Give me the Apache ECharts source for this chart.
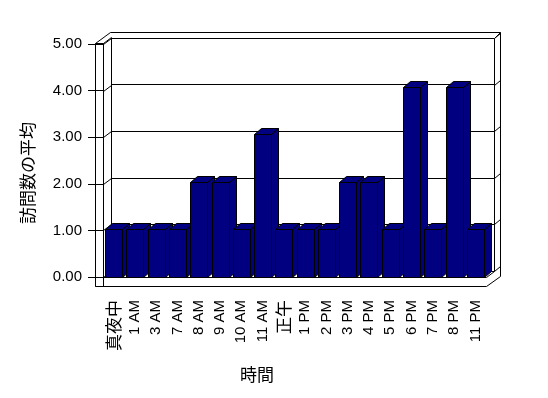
<!DOCTYPE html>
<html>
<head>
<meta charset="utf-8">
<script src="https://cdn.jsdelivr.net/npm/echarts@6/dist/echarts.min.js"></script>
<style>
html, body { margin: 0; background: #fff; }
#chart { width: 548px; height: 398px; }
</style>
</head>
<body>
<div id="chart"></div>
<script>
var categories = ['真夜中', '1 AM', '3 AM', '7 AM', '8 AM', '9 AM', '10 AM', '11 AM', '正午',
    '1 PM', '2 PM', '3 PM', '4 PM', '5 PM', '6 PM', '7 PM', '8 PM', '11 PM'];
var averages = [1, 1, 1, 1, 2, 2, 1, 3, 1, 1, 1, 2, 2, 1, 4, 1, 4, 1];
var yTicks = [0, 1, 2, 3, 4, 5];

var FONT = '"Liberation Sans", "Noto Sans CJK JP", sans-serif';
var CJK = '"Noto Sans CJK JP", sans-serif';
var NAVY = '#000080';
var DEPTH = [7, -6];

var myChart = echarts.init(document.getElementById('chart'));

// 3d-ish column: side, top, then front face
function renderBar(params, api) {
    var top = api.coord([api.value(0), api.value(1)]);
    var base = api.coord([api.value(0), 0]);
    var w = Math.round(api.size([1, 0])[0] * 0.81);
    var x0 = Math.round(top[0] - w / 2) + 0.5;
    var x1 = x0 + w;
    var yt = Math.round(top[1]) + 0.5;
    var yb = Math.round(base[1]) + 0.5;
    var dx = DEPTH[0], dy = DEPTH[1];
    var st = { fill: NAVY, stroke: '#000', lineWidth: 1 };
    return {
        type: 'group',
        children: [
            { type: 'polygon', shape: { points: [[x1, yt], [x1 + dx, yt + dy], [x1 + dx, yb + dy], [x1, yb]] }, style: st },
            { type: 'polygon', shape: { points: [[x0, yt], [x1, yt], [x1 + dx, yt + dy], [x0 + dx, yt + dy]] }, style: st },
            { type: 'rect', shape: { x: x0, y: yt, width: w, height: yb - yt }, style: st }
        ]
    };
}

option = {
    backgroundColor: '#fff',
    animation: false,
    grid: [
        { left: 103, top: 44, width: 383, height: 233, outerBoundsMode: 'none' },   // front
        { left: 111, top: 38, width: 383, height: 233, outerBoundsMode: 'none' },   // back wall
        { left: 103, top: 39, width: 383, height: 238, outerBoundsMode: 'none' }    // bars
    ],
    xAxis: [
        {
            gridIndex: 0,
            type: 'category',
            data: categories,
            axisLine: { lineStyle: { color: '#000', width: 1 } },
            axisTick: { length: 9, lineStyle: { color: '#000' } },
            axisLabel: {
                interval: 0,
                rotate: 90,
                margin: 23,
                color: '#000',
                fontSize: 15,
                fontFamily: FONT,
                formatter: function (v) {
                    return /[^\x00-\x7f]/.test(v) ? '{j|' + v + '}' : v;
                },
                rich: { j: { fontSize: 17, fontFamily: CJK, color: '#000' } }
            }
        },
        { gridIndex: 1, type: 'category', data: categories, show: false },
        { gridIndex: 2, type: 'category', data: categories, show: false }
    ],
    yAxis: [
        {
            gridIndex: 0,
            type: 'value',
            min: 0,
            max: 5,
            interval: 1,
            axisLine: { show: true, lineStyle: { color: '#000', width: 1 } },
            axisTick: { show: true, length: 15, lineStyle: { color: '#000' } },
            splitLine: { show: false },
            axisLabel: {
                margin: 21,
                color: '#000',
                fontSize: 15,
                fontFamily: FONT,
                formatter: function (v) { return v.toFixed(2); }
            }
        },
        {
            gridIndex: 1,
            type: 'value',
            min: 0,
            max: 5,
            interval: 1,
            axisLine: { show: true, lineStyle: { color: '#000', width: 1 } },
            axisTick: { show: false },
            axisLabel: { show: false },
            splitLine: { show: true, lineStyle: { color: '#000', width: 1 } }
        },
        { gridIndex: 2, type: 'value', min: 0, max: 5, show: false }
    ],
    series: [
        {
            name: '訪問数の平均',
            type: 'custom',
            xAxisIndex: 2,
            yAxisIndex: 2,
            renderItem: renderBar,
            encode: { x: 0, y: 1 },
            data: averages.map(function (v, i) { return [i, v]; }),
            z: 5
        }
    ]
};

myChart.setOption(option);

// box frame around the plot (walls and floor)
function seg(x1, y1, x2, y2) {
    return { type: 'line', silent: true, z: 1, shape: { x1: x1, y1: y1, x2: x2, y2: y2 }, style: { stroke: '#000', lineWidth: 1 } };
}
var frame = [
    { type: 'rect', silent: true, z: 1, shape: { x: 95.5, y: 43.5, width: 8, height: 243 }, style: { fill: null, stroke: '#000', lineWidth: 1 } },
    seg(95.5, 286.5, 486.5, 286.5),
    seg(95.5, 43.5, 110.5, 32.5),
    seg(103.5, 43.5, 111.5, 37.5),
    seg(110.5, 32.5, 500.5, 32.5),
    seg(494.5, 38.5, 500.5, 32.5),
    seg(500.5, 32.5, 500.5, 276.5),
    seg(486.5, 286.5, 500.5, 276.5),
    seg(486.5, 277.5, 494.5, 271.5),
    seg(494.5, 38.5, 494.5, 271.5)
];
yTicks.forEach(function (t) {
    var yf = Math.round(myChart.convertToPixel({ yAxisIndex: 0 }, t)) + 0.5;
    var yb = Math.round(myChart.convertToPixel({ yAxisIndex: 1 }, t)) + 0.5;
    frame.push(seg(103.5, yf, 111.5, yb));
    frame.push(seg(494.5, yb, 500.5, yb - 5));
});
frame.push({
    type: 'text', x: 257, y: 375,
    style: { text: '時間', font: '17px ' + CJK, fill: '#000', textAlign: 'center', textVerticalAlign: 'middle' }
});
frame.push({
    type: 'text', x: 28, y: 173, rotation: Math.PI / 2,
    style: { text: '訪問数の平均', font: '17px ' + CJK, fill: '#000', textAlign: 'center', textVerticalAlign: 'middle' }
});
myChart.setOption({ graphic: frame });

window.onresize = function () {
    myChart.resize();
};
</script>
</body>
</html>
